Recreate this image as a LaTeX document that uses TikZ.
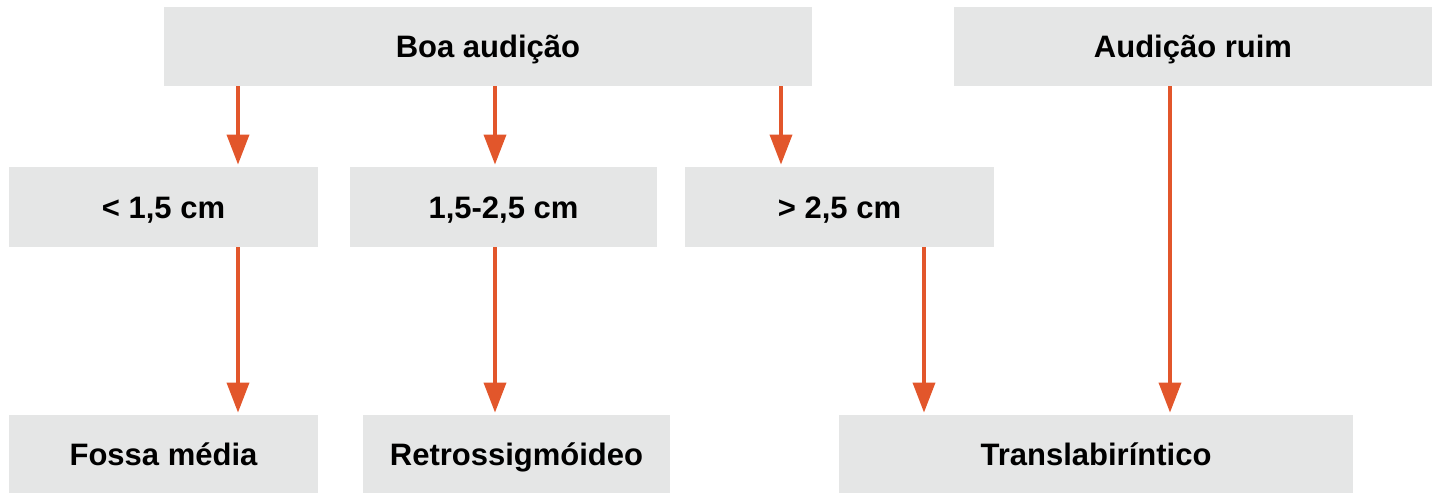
\documentclass[tikz,border=0pt]{standalone}
\usepackage{fontspec}
\setmainfont{Liberation Sans}
\usetikzlibrary{arrows.meta}
\definecolor{cinzacaixa}{HTML}{E5E6E6}
\definecolor{laranja}{HTML}{E2562B}

\begin{document}
\begin{tikzpicture}[x=0.5pt,y=-0.5pt,
	caixa/.style={fill=cinzacaixa,inner sep=0pt,minimum height=39.5pt,text height=11.1pt,text depth=0pt,font=\bfseries\fontsize{15.5}{18}\selectfont},
	seta/.style={draw=laranja,line width=1.8pt,-{Triangle[length=15pt,width=11pt]},shorten >=1pt}]
		\useasboundingbox (0,0) rectangle (1437,498);
		\node[caixa,minimum width=324pt] (boa) at (488,46.5) {Boa audição}; %linha 1
		\node[caixa,minimum width=239pt] (ruim) at (1193,46.5) {Audição ruim};
		\node[caixa,minimum width=154.5pt,minimum height=40pt] (menor) at (163.5,207) {< 1,5 cm}; %linha 2
		\node[caixa,minimum width=153.5pt,minimum height=40pt] (medio) at (503.5,207) {1,5-2,5 cm};
		\node[caixa,minimum width=154.5pt,minimum height=40pt] (maior) at (839.5,207) {> 2,5 cm};
		\node[caixa,minimum width=154.5pt,minimum height=39pt] (fossa) at (163.5,454) {Fossa média}; %linha 3
		\node[caixa,minimum width=153.5pt,minimum height=39pt] (retro) at (516.5,454) {Retrossigmóideo};
		\node[caixa,minimum width=257pt,minimum height=39pt] (trans) at (1096,454) {Translabiríntico};
		\foreach \x/\a/\b in {238/boa/menor,495/boa/medio,781/boa/maior,238/menor/fossa,495/medio/retro,924/maior/trans,1170/ruim/trans}{ %setas
			\draw[seta] (\a.south -| \x,0) -- (\b.north -| \x,0);
		}
	\end{tikzpicture}
\end{document}
